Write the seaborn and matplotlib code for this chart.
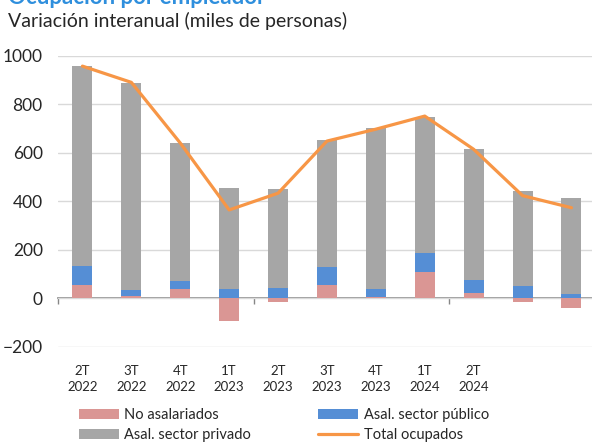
import numpy as np
import pandas as pd
import seaborn as sns
import matplotlib.pyplot as plt

# --- datos (miles de personas, variación interanual) ---
trimestres = ["2T 2022", "3T 2022", "4T 2022", "1T 2023", "2T 2023", "3T 2023",
              "4T 2023", "1T 2024", "2T 2024", "3T 2024", "4T 2024"]
etiquetas_x = ["2T\n2022", "3T\n2022", "4T\n2022", "1T\n2023", "2T\n2023", "3T\n2023",
               "4T\n2023", "1T\n2024", "2T\n2024", "", ""]
no_asalariados = [55, 10, 38, -94, -16, 55, 5, 107, 20, -16, -39]
asal_publico = [78, 24, 32, 38, 42, 74, 33, 78, 55, 52, 19]
asal_privado = [824, 855, 571, 415, 407, 522, 664, 562, 540, 388, 394]
total_ocupados = [957, 890, 640, 364, 433, 648, 697, 751, 614, 423, 373]

# colores estilo Excel
C_NOASAL = "#DA9694"
C_PUB = "#558ED5"
C_PRIV = "#A6A6A6"
C_TOTAL = "#F79646"
C_GRID = "#D9D9D9"
C_AXIS = "#868686"

df = pd.DataFrame({
    "Trimestre": trimestres,
    "NoAsal": no_asalariados,
    "Publico": asal_publico,
    "Privado": asal_privado,
    "Total": total_ocupados,
})
# apilado: positivos sobre positivos, negativos hacia abajo
df["base_pub"] = df["NoAsal"].clip(lower=0)
df["base_priv"] = df["base_pub"] + df["Publico"]
df["pos"] = np.arange(len(df))

sns.set_style("white")
plt.rcParams["font.family"] = ["Lato", "DejaVu Sans"]

fig = plt.figure(figsize=(5.92, 4.44), dpi=100)
ax = fig.add_axes([58 / 592, 1 - 346.7 / 444, 534 / 592, (346.7 - 55.7) / 444])

ancho = 0.41
barra = dict(width=ancho, saturation=1, ax=ax, zorder=2, linewidth=0)
sns.barplot(data=df, x="Trimestre", y="NoAsal", color=C_NOASAL,
            label="No asalariados", **barra)
sns.barplot(data=df, x="Trimestre", y="Privado", bottom=df["base_priv"], color=C_PRIV,
            label="Asal. sector privado", **barra)
sns.barplot(data=df, x="Trimestre", y="Publico", bottom=df["base_pub"], color=C_PUB,
            label="Asal. sector público", **barra)
sns.lineplot(data=df, x="pos", y="Total", color=C_TOTAL, linewidth=2.3, ax=ax,
             zorder=3, label="Total ocupados")

# ejes
ax.set_ylim(-200, 1000)
ax.set_xlim(-0.5, 10.42)
ax.set_yticks(range(-200, 1001, 200))
ax.yaxis.grid(True, color=C_GRID, linewidth=1, zorder=0)
ax.set_axisbelow(True)
ax.set_xlabel("")
ax.set_ylabel("")
for s in ax.spines.values():
    s.set_visible(False)
ax.tick_params(axis="y", length=0, pad=11, labelsize=12.5, labelcolor="#262626")
ax.set_xticks(df["pos"])
ax.set_xticklabels(etiquetas_x)
ax.tick_params(axis="x", length=0, pad=13, labelsize=9.5, labelcolor="#262626")
for lab in ax.get_xticklabels():
    lab.set_linespacing(1.45)

# línea del cero con marcas cada 4 trimestres
eje0 = ax.secondary_xaxis(200 / 1200)
eje0.set_xticks([-0.5, 3.5, 7.5])
eje0.set_xticklabels([])
eje0.tick_params(axis="x", direction="out", length=4, color=C_AXIS, width=1)
eje0.spines["bottom"].set_color(C_AXIS)
eje0.spines["bottom"].set_linewidth(1.2)
for k in ["top", "left", "right"]:
    eje0.spines[k].set_visible(False)

# leyenda (dos columnas, abajo)
h, l = ax.get_legend_handles_labels()
orden = {"No asalariados": 0, "Asal. sector privado": 1,
         "Asal. sector público": 2, "Total ocupados": 3}
pares = sorted(zip(h, l), key=lambda p: orden[p[1]])
ax.get_legend().remove()
fig.legend([p[0] for p in pares], [p[1] for p in pares], ncol=2,
           loc="center left", bbox_to_anchor=(66 / 592, 1 - 425 / 444),
           frameon=False, fontsize=10.5, handlelength=2.75, handleheight=0.7,
           handletextpad=0.35, columnspacing=4.6, labelspacing=0.45,
           labelcolor="#262626")

# títulos
fig.text(8 / 592, 1 - 4 / 444, "Ocupación por empleador", fontsize=16,
         fontweight="bold", color="#2F8FDD", va="baseline", ha="left")
fig.text(8 / 592, 1 - 21 / 444, "Variación interanual (miles de personas)",
         fontsize=14, color="#262626", va="center", ha="left")

plt.savefig("out.png", dpi=100)
plt.close()
